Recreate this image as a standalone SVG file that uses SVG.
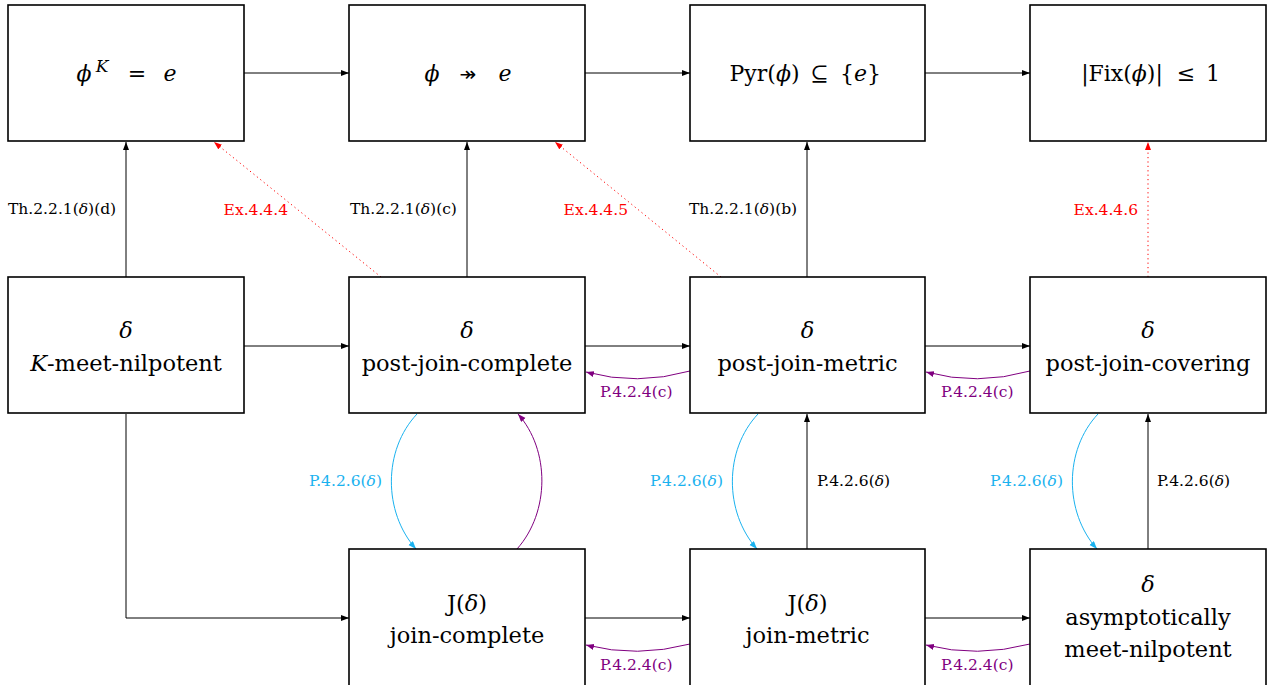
<svg xmlns="http://www.w3.org/2000/svg" width="1276" height="685" viewBox="0 0 1276 685">
<style>
.box{fill:#fff;stroke:#000;stroke-width:1.6}
.t{font-family:'DejaVu Serif',serif;font-size:22.5px;fill:#000}
.m{font-family:'DejaVu Serif',serif;font-size:22px;fill:#000;text-anchor:middle}
.i{font-style:italic}
.lbl{font-family:'DejaVu Serif',serif;font-size:15.5px}
.e{text-anchor:end}
.k{stroke:#000;stroke-width:1;fill:none}
.p{stroke:#800080;stroke-width:1;fill:none}
.c{stroke:#1ab2ef;stroke-width:1;fill:none}
.r{stroke:#ff0000;stroke-width:1;fill:none;stroke-dasharray:1.2 3.2}
</style>
<defs>
<marker id="ak" markerUnits="userSpaceOnUse" markerWidth="9" markerHeight="7" refX="8" refY="3" orient="auto"><path d="M0,0 L8,3 L0,6 z" fill="#000"/></marker>
<marker id="ap" markerUnits="userSpaceOnUse" markerWidth="9" markerHeight="7" refX="8" refY="3" orient="auto"><path d="M0,0 L8,3 L0,6 z" fill="#800080"/></marker>
<marker id="ac" markerUnits="userSpaceOnUse" markerWidth="9" markerHeight="7" refX="8" refY="3" orient="auto"><path d="M0,0 L8,3 L0,6 z" fill="#1ab2ef"/></marker>
<marker id="ar" markerUnits="userSpaceOnUse" markerWidth="9" markerHeight="7" refX="8" refY="3" orient="auto"><path d="M0,0 L8,3 L0,6 z" fill="#ff0000"/></marker>
</defs>

<g id="connectors">
<path class="k" d="M244,73 H349" marker-end="url(#ak)"/>
<path class="k" d="M585,73 H690" marker-end="url(#ak)"/>
<path class="k" d="M925,73 H1030" marker-end="url(#ak)"/>
<path class="k" d="M126,277 V142" marker-end="url(#ak)"/>
<path class="k" d="M467,277 V142" marker-end="url(#ak)"/>
<path class="k" d="M807,277 V142" marker-end="url(#ak)"/>
<path class="r" d="M381,277 L214,142" marker-end="url(#ar)"/>
<path class="r" d="M721,277 L555,142" marker-end="url(#ar)"/>
<path class="r" d="M1148,277 V142" marker-end="url(#ar)"/>
<path class="k" d="M244,346 H349" marker-end="url(#ak)"/>
<path class="k" d="M585,346 H690" marker-end="url(#ak)"/>
<path class="k" d="M925,346 H1030" marker-end="url(#ak)"/>
<path class="p" d="M690,371 Q637,386 586,372" marker-end="url(#ap)"/>
<path class="p" d="M1030,371 Q977,386 926,372" marker-end="url(#ap)"/>
<path class="k" d="M126,414 V618 H349" marker-end="url(#ak)"/>
<path class="c" d="M417,414 C383,450 383,512 416,549" marker-end="url(#ac)"/>
<path class="p" d="M517,549 C550,512 550,450 518,414" marker-end="url(#ap)"/>
<path class="c" d="M758,414 C724,450 724,512 757,549" marker-end="url(#ac)"/>
<path class="k" d="M807,549 V414" marker-end="url(#ak)"/>
<path class="c" d="M1098,414 C1064,450 1064,512 1097,549" marker-end="url(#ac)"/>
<path class="k" d="M1148,549 V414" marker-end="url(#ak)"/>
<path class="k" d="M585,618 H690" marker-end="url(#ak)"/>
<path class="k" d="M925,618 H1030" marker-end="url(#ak)"/>
<path class="p" d="M690,644 Q637,658 586,645" marker-end="url(#ap)"/>
<path class="p" d="M1030,644 Q977,658 926,645" marker-end="url(#ap)"/>
</g>

<g id="labels">
<text class="lbl" x="8" y="214" fill="#000">Th.2.2.1(<tspan class="i">δ</tspan>)(d)</text>
<text class="lbl" x="350" y="214" fill="#000">Th.2.2.1(<tspan class="i">δ</tspan>)(c)</text>
<text class="lbl" x="689" y="214" fill="#000">Th.2.2.1(<tspan class="i">δ</tspan>)(b)</text>
<text class="lbl e" x="288" y="215" fill="#ff0000">Ex.4.4.4</text>
<text class="lbl e" x="628" y="215" fill="#ff0000">Ex.4.4.5</text>
<text class="lbl e" x="1138" y="215" fill="#ff0000">Ex.4.4.6</text>
<text class="lbl" x="600" y="397" fill="#800080">P.4.2.4(c)</text>
<text class="lbl" x="941" y="397" fill="#800080">P.4.2.4(c)</text>
<text class="lbl" x="600" y="670" fill="#800080">P.4.2.4(c)</text>
<text class="lbl" x="941" y="670" fill="#800080">P.4.2.4(c)</text>
<text class="lbl e" x="382" y="486" fill="#1ab2ef">P.4.2.6(<tspan class="i">δ</tspan>)</text>
<text class="lbl e" x="723" y="486" fill="#1ab2ef">P.4.2.6(<tspan class="i">δ</tspan>)</text>
<text class="lbl e" x="1063" y="486" fill="#1ab2ef">P.4.2.6(<tspan class="i">δ</tspan>)</text>
<text class="lbl" x="817" y="486" fill="#000">P.4.2.6(<tspan class="i">δ</tspan>)</text>
<text class="lbl" x="1157" y="486" fill="#000">P.4.2.6(<tspan class="i">δ</tspan>)</text>
</g>

<g id="n-phiK">
<rect class="box" x="8" y="5" width="236" height="136"/>
<text class="m i" x="84" y="81">ϕ</text>
<text class="m i" x="102" y="72" style="font-size:17px">K</text>
<text class="m" x="137" y="81">=</text>
<text class="m i" x="170" y="81">e</text>
</g>
<g id="n-phi-onto">
<rect class="box" x="349" y="5" width="236" height="136"/>
<text class="m i" x="432" y="81">ϕ</text>
<text class="m" x="468" y="81" style="font-family:'DejaVu Sans',sans-serif;font-size:20px">↠</text>
<text class="m i" x="505" y="81">e</text>
</g>
<g id="n-pyr">
<rect class="box" x="690" y="5" width="235" height="136"/>
<text class="m" x="764.5" y="81">Pyr(<tspan class="i">ϕ</tspan>)</text>
<text class="m" x="819.5" y="81">⊆</text>
<text class="m" x="860.5" y="81">{<tspan class="i">e</tspan>}</text>
</g>
<g id="n-fix">
<rect class="box" x="1030" y="5" width="236" height="136"/>
<text class="m" x="1122" y="81">|Fix(<tspan class="i">ϕ</tspan>)|</text>
<text class="m" x="1186" y="81">≤</text>
<text class="m" x="1213" y="81">1</text>
</g>

<g id="n-kmeet">
<rect class="box" x="8" y="277" width="236" height="136"/>
<text class="t i" x="126" y="338" text-anchor="middle">δ</text>
<text class="t" x="126" y="371" text-anchor="middle"><tspan class="i">K</tspan>-meet-nilpotent</text>
</g>
<g id="n-pjcomplete">
<rect class="box" x="349" y="277" width="236" height="136"/>
<text class="t i" x="467" y="338" text-anchor="middle">δ</text>
<text class="t" x="467" y="371" text-anchor="middle">post-join-complete</text>
</g>
<g id="n-pjmetric">
<rect class="box" x="690" y="277" width="235" height="136"/>
<text class="t i" x="807.5" y="338" text-anchor="middle">δ</text>
<text class="t" x="807.5" y="371" text-anchor="middle">post-join-metric</text>
</g>
<g id="n-pjcovering">
<rect class="box" x="1030" y="277" width="236" height="136"/>
<text class="t i" x="1148" y="338" text-anchor="middle">δ</text>
<text class="t" x="1148" y="371" text-anchor="middle">post-join-covering</text>
</g>

<g id="n-jcomplete">
<rect class="box" x="349" y="549" width="236" height="145"/>
<text class="t" x="467" y="611" text-anchor="middle">J(<tspan class="i">δ</tspan>)</text>
<text class="t" x="467" y="643" text-anchor="middle">join-complete</text>
</g>
<g id="n-jmetric">
<rect class="box" x="690" y="549" width="235" height="145"/>
<text class="t" x="807.5" y="611" text-anchor="middle">J(<tspan class="i">δ</tspan>)</text>
<text class="t" x="807.5" y="643" text-anchor="middle">join-metric</text>
</g>
<g id="n-asym">
<rect class="box" x="1030" y="549" width="236" height="145"/>
<text class="t i" x="1148" y="592" text-anchor="middle">δ</text>
<text class="t" x="1148" y="625" text-anchor="middle">asymptotically</text>
<text class="t" x="1148" y="657" text-anchor="middle">meet-nilpotent</text>
</g>
</svg>
